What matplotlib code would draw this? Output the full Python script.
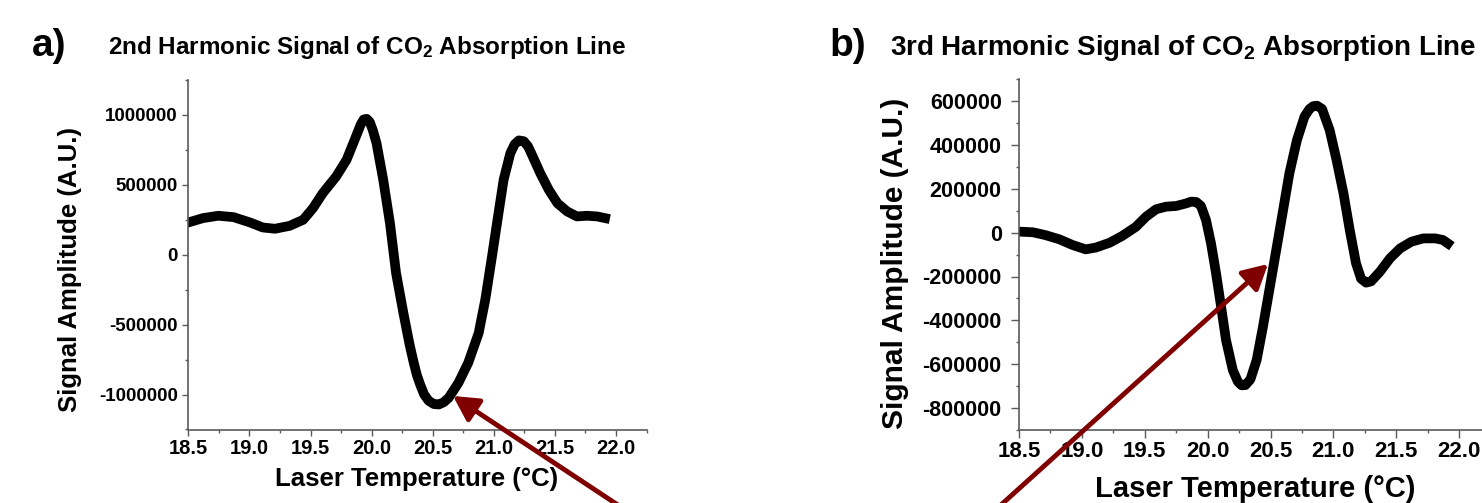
import matplotlib
matplotlib.use('Agg')
import matplotlib.pyplot as plt
from matplotlib.ticker import MultipleLocator, FuncFormatter

plt.rcParams['font.family'] = ['Liberation Sans', 'DejaVu Sans']
plt.rcParams['font.weight'] = 'bold'
plt.rcParams['mathtext.fontset'] = 'custom'
plt.rcParams['mathtext.rm'] = 'Liberation Sans:bold'
plt.rcParams['mathtext.it'] = 'Liberation Sans:bold'
plt.rcParams['axes.unicode_minus'] = False

# 2nd harmonic signal (panel a)
temp_2f = [18.50, 18.62, 18.745, 18.87, 19.005, 19.11, 19.21, 19.33, 19.44, 19.52,
           19.60, 19.71, 19.795, 19.877, 19.91, 19.935, 19.96, 19.985, 20.01, 20.04,
           20.095, 20.15, 20.20, 20.26, 20.31, 20.345, 20.37, 20.40, 20.43, 20.467,
           20.51, 20.55, 20.59, 20.63, 20.71, 20.79, 20.876, 20.93, 20.985, 21.03,
           21.08, 21.135, 21.17, 21.205, 21.245, 21.28, 21.30, 21.38, 21.45, 21.52,
           21.60, 21.68, 21.76, 21.845, 21.91]
amp_2f = [231e3, 262e3, 279e3, 269e3, 231e3, 195e3, 186e3, 207e3, 250e3, 333e3,
          440e3, 560e3, 679e3, 857e3, 930e3, 968e3, 972e3, 950e3, 890e3, 798e3,
          536e3, 226e3, -131e3, -417e3, -640e3, -774e3, -860e3, -935e3, -1000e3, -1045e3,
          -1068e3, -1071e3, -1055e3, -1024e3, -917e3, -774e3, -560e3, -321e3, -12e3, 250e3,
          536e3, 726e3, 790e3, 818e3, 812e3, 775e3, 738e3, 583e3, 464e3, 369e3,
          310e3, 274e3, 279e3, 274e3, 262e3]

# 3rd harmonic signal (panel b)
temp_3f = [18.50, 18.61, 18.71, 18.82, 18.925, 19.03, 19.11, 19.22, 19.32, 19.43,
           19.51, 19.59, 19.67, 19.75, 19.83, 19.87, 19.91, 19.947, 19.987, 20.027,
           20.067, 20.107, 20.146, 20.20, 20.24, 20.27, 20.30, 20.34, 20.39, 20.44,
           20.495, 20.55, 20.60, 20.65, 20.71, 20.77, 20.81, 20.84, 20.87, 20.91,
           20.97, 21.025, 21.08, 21.13, 21.18, 21.22, 21.26, 21.30, 21.37, 21.45,
           21.53, 21.62, 21.715, 21.81, 21.87, 21.91]
amp_3f = [5e3, 2e3, -11e3, -30e3, -56e3, -76e3, -68e3, -46e3, -15e3, 27e3,
          73e3, 107e3, 119e3, 122e3, 134e3, 142e3, 140e3, 122e3, 58e3, -49e3,
          -186e3, -338e3, -490e3, -627e3, -680e3, -697e3, -696e3, -670e3, -581e3, -429e3,
          -247e3, -64e3, 103e3, 271e3, 423e3, 530e3, 565e3, 578e3, 580e3, 565e3,
          469e3, 332e3, 180e3, 12e3, -140e3, -210e3, -228e3, -222e3, -178e3, -117e3,
          -72e3, -41e3, -26e3, -26e3, -33e3, -49e3]

W, H = 1482, 503
fig = plt.figure(figsize=(W / 100, H / 100), dpi=100)


def px_rect(l, t, r, b):
    return [l / W, 1 - b / H, (r - l) / W, (b - t) / H]


def style_axes(ax, ylim, ymaj, ymin, xsize, ysize, ylen, ypad):
    ax.set_xlim(18.5, 22.25)
    ax.set_ylim(*ylim)
    for s in ['top', 'right']:
        ax.spines[s].set_visible(False)
    for s in ['left', 'bottom']:
        ax.spines[s].set_color('#5a5a5a')
        ax.spines[s].set_linewidth(1.2)
    ax.xaxis.set_major_locator(MultipleLocator(0.5))
    ax.xaxis.set_minor_locator(MultipleLocator(0.25))
    ax.yaxis.set_major_locator(MultipleLocator(ymaj))
    ax.yaxis.set_minor_locator(MultipleLocator(ymin))
    ax.xaxis.set_major_formatter(FuncFormatter(lambda v, p: '%.1f' % v))
    ax.yaxis.set_major_formatter(FuncFormatter(lambda v, p: '%d' % int(round(v))))
    ax.tick_params(which='major', color='#5a5a5a', width=1, length=ylen)
    ax.tick_params(which='minor', color='#5a5a5a', width=1, length=2.5)
    ax.tick_params(axis='x', labelsize=xsize, pad=2.5)
    ax.tick_params(axis='y', labelsize=ysize, pad=ypad)


ax_a = fig.add_axes(px_rect(188.3, 80, 646.6, 429.5))
ax_a.plot(temp_2f, amp_2f, color='black', lw=7, solid_joinstyle='round')
style_axes(ax_a, (-1.25e6, 1.25e6), 500000, 250000, 14.5, 13.5, 4.5, 3)

ax_b = fig.add_axes(px_rect(1019, 79.4, 1490.6, 429.8))
ax_b.plot(temp_3f, amp_3f, color='black', lw=7, solid_joinstyle='round')
style_axes(ax_b, (-900000, 700000), 200000, 100000, 16, 15.5, 5.5, 7)

# panel letters and titles
fig.text(32 / W, 1 - 46 / H, 'a)', fontsize=28, va='center', ha='left')
fig.text(108 / W, 1 - 54 / H, '2nd Harmonic Signal of CO$_2$ Absorption Line',
         fontsize=17.5, va='baseline', ha='left')
fig.text(829 / W, 1 - 46 / H, 'b)', fontsize=28, va='center', ha='left')
fig.text(890 / W, 1 - 55 / H, '3rd Harmonic Signal of CO$_2$ Absorption Line',
         fontsize=20, va='baseline', ha='left')

# axis labels
fig.text(70 / W, 1 - 270 / H, 'Signal Amplitude (A.U.)', fontsize=18.5,
         rotation=90, ha='center', va='center')
fig.text(895 / W, 1 - 263 / H, 'Signal Amplitude (A.U.)', fontsize=21.5,
         rotation=90, ha='center', va='center')
fig.text(417 / W, 1 - 479 / H, 'Laser Temperature (\u00b0C)', fontsize=18.5,
         ha='center', va='center')
fig.text(1255 / W, 1 - 489 / H, 'Laser Temperature (\u00b0C)', fontsize=21,
         ha='center', va='center')

# dark red arrows coming from below the figure
arrow = dict(arrowstyle='-|>,head_length=0.5,head_width=0.27', color='#800000',
             lw=3.5, shrinkA=0, shrinkB=0, mutation_scale=30)
ax_a.annotate('', xy=(453, H - 396), xycoords='figure pixels',
              xytext=(630, -10), textcoords='figure pixels',
              arrowprops=arrow, annotation_clip=False)
ax_b.annotate('', xy=(1268, H - 264), xycoords='figure pixels',
              xytext=(992, -10), textcoords='figure pixels',
              arrowprops=arrow, annotation_clip=False)

fig.savefig('out.png', dpi=100)
